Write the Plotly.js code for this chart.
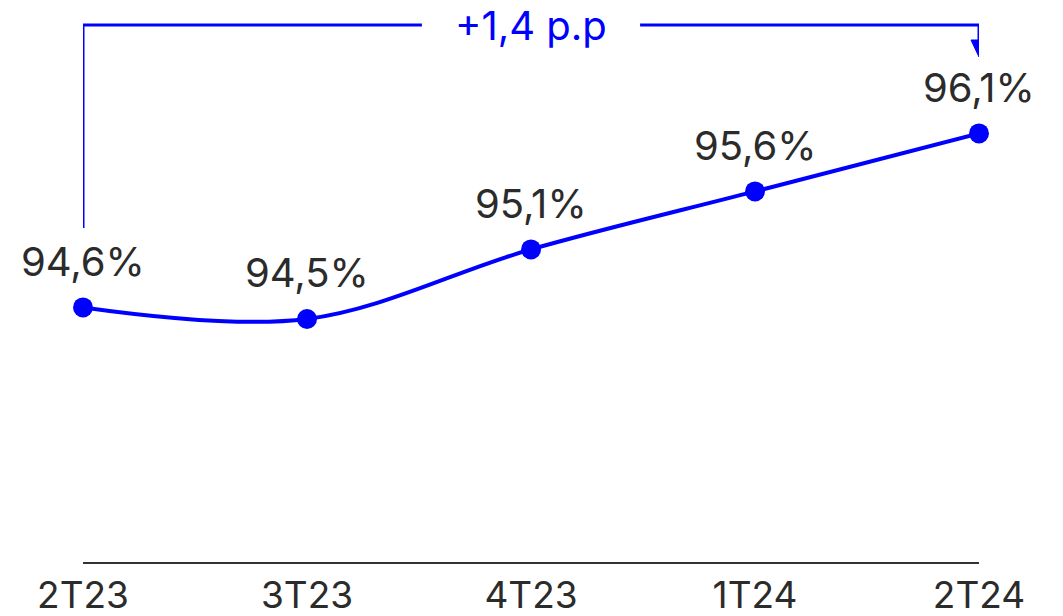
<!DOCTYPE html>
<html>
<head>
<meta charset="utf-8">
<script src="https://cdn.plot.ly/plotly-3.0.1.min.js"></script>
<style>
html,body{margin:0;padding:0;background:#fff;}
#chart{width:1063px;height:616px;}
</style>
</head>
<body>
<div id="chart"></div>
<script>
const categories = ["2T23", "3T23", "4T23", "1T24", "2T24"];
const values = [94.6, 94.5, 95.1, 95.6, 96.1];
const valueLabels = ["94,6%", "94,5%", "95,1%", "95,6%", "96,1%"];
const deltaLabel = "+1,4 p.p";

const blue = "#0000ff";
const textColor = "#2b2b2b";
const font = "Inter, 'Noto Sans', sans-serif";

const xIdx = categories.map((c, i) => i);

const trace = {
  x: xIdx,
  y: values,
  mode: "lines+markers",
  line: {color: blue, width: 4, shape: "spline", smoothing: 1},
  marker: {color: blue, size: 20},
  cliponaxis: false,
  hoverinfo: "skip"
};

const labelAnns = xIdx.map((x, i) => ({
  x: x, y: values[i], xref: "x", yref: "y",
  yanchor: "middle",
  text: valueLabels[i], showarrow: false,
  yshift: 46,
  font: {family: font, size: 40, color: textColor}
}));

const last = xIdx.length - 1;
const topY = 1 - 25/562;
const lw = 3;
const shapes = [
  {type: "line", xref: "x", yref: "paper", x0: 0, x1: 0, y0: 1 - 228/562, y1: topY, line: {color: blue, width: lw}},
  {type: "line", xref: "x", yref: "paper", x0: 0, x1: 1.513, y0: topY, y1: topY, line: {color: blue, width: lw}},
  {type: "line", xref: "x", yref: "paper", x0: 2.487, x1: last, y0: topY, y1: topY, line: {color: blue, width: lw}},
  {type: "line", xref: "x", yref: "paper", x0: last, x1: last, y0: topY, y1: 1 - 42/562, line: {color: blue, width: lw}},
  {type: "path", xref: "x", yref: "paper",
   path: `M ${last - 8/224} ${1 - 40/562} L ${last + 8/224} ${1 - 40/562} L ${last} ${1 - 57/562} Z`,
   fillcolor: blue, line: {color: blue, width: 1}}
];

const deltaAnn = {
  x: 2, y: topY, xref: "x", yref: "paper",
  xanchor: "center", yanchor: "middle",
  text: deltaLabel, showarrow: false,
  font: {family: font, size: 40, color: blue}
};

const layout = {
  width: 1063, height: 616,
  margin: {l: 83, r: 84, t: 0, b: 54},
  paper_bgcolor: "#fff", plot_bgcolor: "#fff",
  showlegend: false,
  xaxis: {
    range: [0, last],
    tickvals: xIdx, ticktext: categories,
    showline: true, linecolor: "#333", linewidth: 2,
    showgrid: false, zeroline: false, ticks: "",
    tickfont: {family: font, size: 37, color: textColor},
    fixedrange: true
  },
  yaxis: {
    range: [92.405, 97.25],
    visible: false, showgrid: false, zeroline: false, fixedrange: true
  },
  shapes: shapes,
  annotations: labelAnns.concat([deltaAnn])
};

Plotly.newPlot("chart", [trace], layout, {displayModeBar: false, staticPlot: true});
</script>
</body>
</html>
